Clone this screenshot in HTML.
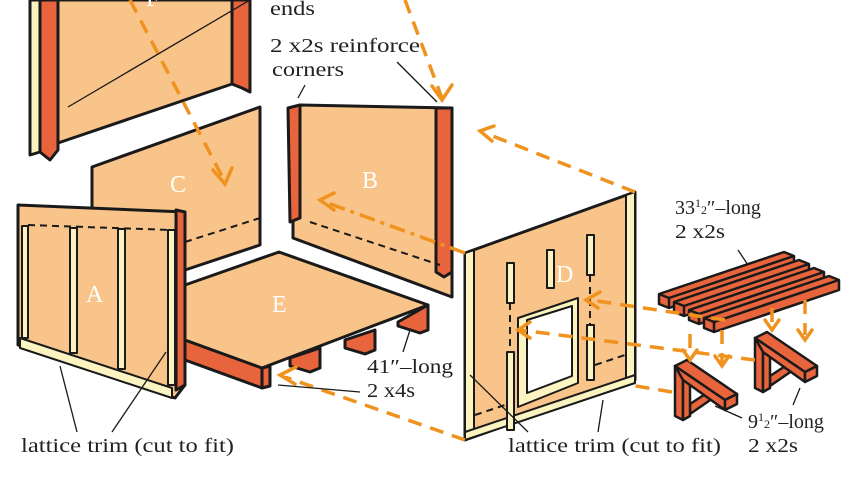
<!DOCTYPE html>
<html><head><meta charset="utf-8"><style>
html,body{margin:0;padding:0;background:#fff;}
svg{display:block;}
text{font-family:"Liberation Serif","DejaVu Serif",serif;font-size:20px;fill:#222;}
.lbl{font-family:"Liberation Serif",serif;font-size:24px;fill:#fff;}
</style></head><body>
<svg width="862" height="485" viewBox="0 0 862 485" xmlns="http://www.w3.org/2000/svg">
<g stroke="#1a1a1a" stroke-width="3" stroke-linejoin="round">
<!-- Panel F -->
<polygon points="58,0 232,0 232,84 58,143" fill="#F9C48A"/>
<polygon points="30,0 40,0 40,152 30,155" fill="#FBF3C0"/>
<polygon points="40,0 58,0 58,150 50,160 40,152" fill="#E8643C"/>
<polygon points="232,0 250,0 250,92 242,88 232,84" fill="#E8643C"/>
<!-- Panel C -->
<polygon points="92,167 260,107 260,245 185,270 92,290" fill="#F9C48A"/>
<!-- Panel B -->
<polygon points="300,105 452,108 452,297 293,238 293,220" fill="#F9C48A"/>
<polygon points="288,108 300,105 300,218 290,222" fill="#E8643C"/>
<polygon points="436,108 452,108 452,272 444,277 436,272" fill="#E8643C"/>
<!-- Panel E floor -->
<polygon points="185,340 262,368 262,388 185,360" fill="#E8643C"/>
<polygon points="262,368 270,366 270,386 262,388" fill="#E8643C"/>
<polygon points="290,358 320,348 320,368 310,372 290,366" fill="#E8643C"/>
<polygon points="345,340 375,330 375,350 365,354 345,348" fill="#E8643C"/>
<polygon points="398,322 428,305 428,330 420,333 398,326" fill="#E8643C"/>
<polygon points="185,285 279,252 428,305 262,368 185,340" fill="#F9C48A"/>
<!-- Panel A -->
<polygon points="18,205 185,212 185,385 175,398 18,345" fill="#F9C48A"/>
<polygon points="20,338 172,388 172,398 20,348" fill="#FBF3C0" stroke-width="2"/>
<rect x="22" y="226" width="6" height="112" fill="#FBF3C0" stroke-width="2"/>
<rect x="70" y="228" width="7" height="125" fill="#FBF3C0" stroke-width="2"/>
<rect x="118" y="229" width="7" height="140" fill="#FBF3C0" stroke-width="2"/>
<rect x="168" y="230" width="7" height="155" fill="#FBF3C0" stroke-width="2"/>
<polygon points="176,210 185,212 185,385 176,390" fill="#E8643C"/>
<!-- Panel D -->
<polygon points="465,253 635,192 635,380 465,440" fill="#F9C48A"/>
<polygon points="465,253 474,250 474,432 465,440" fill="#FBF3C0" stroke-width="2"/>
<polygon points="626,195 635,192 635,380 626,383" fill="#FBF3C0" stroke-width="2"/>
<polygon points="465,432 635,375 635,383 465,440" fill="#FBF3C0" stroke-width="2"/>
<rect x="507" y="263" width="7" height="40" fill="#FBF3C0" stroke-width="2"/>
<rect x="547" y="250" width="7" height="38" fill="#FBF3C0" stroke-width="2"/>
<rect x="587" y="235" width="7" height="40" fill="#FBF3C0" stroke-width="2"/>
<rect x="507" y="352" width="7" height="78" fill="#FBF3C0" stroke-width="2"/>
<rect x="587" y="325" width="7" height="55" fill="#FBF3C0" stroke-width="2"/>
<polygon points="518,318 578,298 578,383 518,407" fill="#FBF3C0" stroke-width="2"/>
<polygon points="527,320 572,306 572,376 527,393" fill="#fff" stroke-width="2"/>
</g>
<!-- Bench slats -->
<g fill="#E8643C" stroke="#1a1a1a" stroke-width="2.5" stroke-linejoin="round">
<g transform="translate(659,294)"><polygon points="0,0 125,-42 135,-38 135,-28 10,14 0,10"/><polyline points="0,0 10,4 135,-38" fill="none"/><line x1="10" y1="4" x2="10" y2="14"/></g>
<g transform="translate(674,302)"><polygon points="0,0 125,-42 135,-38 135,-28 10,14 0,10"/><polyline points="0,0 10,4 135,-38" fill="none"/><line x1="10" y1="4" x2="10" y2="14"/></g>
<g transform="translate(689,310)"><polygon points="0,0 125,-42 135,-38 135,-28 10,14 0,10"/><polyline points="0,0 10,4 135,-38" fill="none"/><line x1="10" y1="4" x2="10" y2="14"/></g>
<g transform="translate(704,318)"><polygon points="0,0 125,-42 135,-38 135,-28 10,14 0,10"/><polyline points="0,0 10,4 135,-38" fill="none"/><line x1="10" y1="4" x2="10" y2="14"/></g>
<!-- brackets -->
<g transform="translate(675,362)">
<polygon points="15,42 38,27 44,32 15,52"/>
<polygon points="0,4 8,8 8,58 0,54"/>
<polygon points="8,8 15,4 15,54 8,58"/>
<polygon points="0,4 12,-2 62,32 50,38"/>
<polygon points="0,4 50,38 50,48 8,18"/>
<polygon points="50,38 62,32 62,42 50,48"/>
</g>
<g transform="translate(755,334)">
<polygon points="15,42 38,27 44,32 15,52"/>
<polygon points="0,4 8,8 8,58 0,54"/>
<polygon points="8,8 15,4 15,54 8,58"/>
<polygon points="0,4 12,-2 62,32 50,38"/>
<polygon points="0,4 50,38 50,48 8,18"/>
<polygon points="50,38 62,32 62,42 50,48"/>
</g>
</g>
<!-- dashed lines in panels -->
<g stroke="#1a1a1a" stroke-width="2" stroke-dasharray="7,5" fill="none">
<line x1="28" y1="225" x2="172" y2="230"/>
<line x1="185" y1="242" x2="260" y2="218"/>
<line x1="310" y1="222" x2="440" y2="265"/>
<line x1="475" y1="415" x2="505" y2="405"/>
<line x1="595" y1="365" x2="625" y2="355"/>
<line x1="510" y1="303" x2="510" y2="352"/>
<line x1="590" y1="275" x2="590" y2="325"/>
</g>
<!-- labels -->
<text class="lbl" x="86" y="302">A</text>
<text class="lbl" x="362" y="188">B</text>
<text class="lbl" x="170" y="192">C</text>
<text class="lbl" x="556" y="282">D</text>
<text class="lbl" x="272" y="312">E</text>
<text class="lbl" x="146" y="6">F</text>
<!-- orange dashed arrows -->
<g stroke="#F0921E" stroke-width="3.5" fill="none" stroke-dasharray="14,9">
<line x1="405" y1="0" x2="442" y2="98"/>
<line x1="130" y1="0" x2="225" y2="182"/>
<line x1="635" y1="192" x2="485" y2="133"/>
<line x1="465" y1="253" x2="325" y2="202" stroke-dasharray="16,6,4,6"/>
<line x1="465" y1="440" x2="285" y2="377"/>
<line x1="725" y1="320" x2="590" y2="300"/>
<line x1="755" y1="360" x2="520" y2="330"/>
<line x1="672" y1="392" x2="630" y2="385"/>
<line x1="690" y1="334" x2="690" y2="355"/>
<line x1="722" y1="330" x2="722" y2="365"/>
<line x1="772" y1="308" x2="772" y2="325"/>
<line x1="805" y1="300" x2="805" y2="335"/>
</g>
<g stroke="#F0921E" stroke-width="3.5" fill="none" stroke-linecap="round">
<polyline points="432,86 442,100 452,85"/>
<polyline points="213,170 225,184 232,168"/>
<polyline points="494,126 480,131 492,141"/>
<polyline points="334,193 320,200 334,210"/>
<polyline points="296,367 280,375 295,384"/>
<polyline points="600,292 586,300 598,308"/>
<polyline points="530,322 518,330 530,338"/>
<polyline points="683,350 690,360 697,350"/>
<polyline points="715,356 722,366 729,356"/>
<polyline points="765,320 772,330 779,320"/>
<polyline points="798,330 805,340 812,330"/>
</g>
<!-- leader lines -->
<g stroke="#1a1a1a" stroke-width="1.3" fill="none">
<line x1="68" y1="107" x2="250" y2="0"/>
<line x1="298" y1="98" x2="305" y2="85"/>
<line x1="437" y1="102" x2="397" y2="62"/>
<line x1="278" y1="385" x2="360" y2="392"/>
<line x1="410" y1="330" x2="403" y2="352"/>
<line x1="60" y1="366" x2="77" y2="432"/>
<line x1="166" y1="352" x2="112" y2="432"/>
<line x1="470" y1="375" x2="528" y2="432"/>
<line x1="603" y1="400" x2="598" y2="432"/>
<line x1="738" y1="250" x2="748" y2="265"/>
<line x1="715" y1="406" x2="742" y2="418"/>
<line x1="800" y1="388" x2="793" y2="405"/>
</g>
<text x="270" y="15" textLength="45" lengthAdjust="spacingAndGlyphs">ends</text>
<text x="270" y="52" textLength="150" lengthAdjust="spacingAndGlyphs">2 x2s reinforce</text>
<text x="272" y="76" textLength="72" lengthAdjust="spacingAndGlyphs">corners</text>
<text x="675" y="214">33<tspan font-size="12" dy="-7">1</tspan><tspan font-size="12" dy="7">2</tspan>″–long</text>
<text x="675" y="238" textLength="50" lengthAdjust="spacingAndGlyphs">2 x2s</text>
<text x="367" y="373" textLength="86" lengthAdjust="spacingAndGlyphs">41″–long</text>
<text x="367" y="397" textLength="48" lengthAdjust="spacingAndGlyphs">2 x4s</text>
<text x="21" y="452" textLength="213" lengthAdjust="spacingAndGlyphs">lattice trim (cut to fit)</text>
<text x="508" y="452" textLength="213" lengthAdjust="spacingAndGlyphs">lattice trim (cut to fit)</text>
<text x="748" y="428">9<tspan font-size="12" dy="-7">1</tspan><tspan font-size="12" dy="7">2</tspan>″–long</text>
<text x="748" y="452" textLength="50" lengthAdjust="spacingAndGlyphs">2 x2s</text>
</svg>
</body></html>
